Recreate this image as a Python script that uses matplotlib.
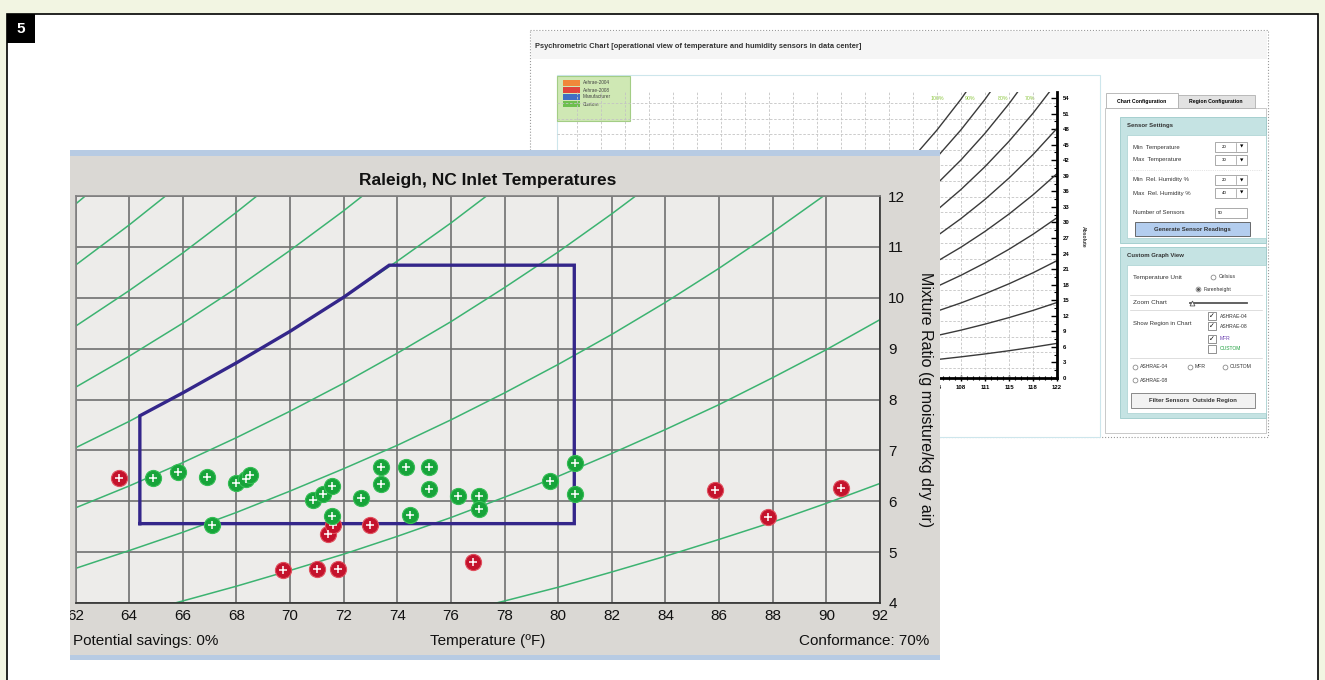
import matplotlib
matplotlib.use("Agg")
import matplotlib.pyplot as plt
from matplotlib.patches import Rectangle
from matplotlib.ticker import MultipleLocator
import numpy as np

nan = np.nan
W_PX, H_PX = 1325, 680

# ---------------- foreground chart: Raleigh, NC ----------------
temps_f = [62, 64, 66, 68, 70, 72, 74, 76, 78, 80, 82, 84, 86, 88, 90, 92]
ratio_ticks = [4, 5, 6, 7, 8, 9, 10, 11, 12]

# relative humidity lines (g/kg at each temperature of temps_f)
rh100 = [11.84, 12.72] + [nan] * 14
rh90 = [10.64, 11.43, 12.27] + [nan] * 13
rh80 = [9.44, 10.14, 10.88, 11.68, 12.52] + [nan] * 11
rh70 = [8.24, 8.85, 9.50, 10.19, 10.93, 11.71, 12.54] + [nan] * 9
rh60 = [7.05, 7.57, 8.13, 8.72, 9.34, 10.01, 10.72, 11.47, 12.27] + [nan] * 7
rh50 = [5.87, 6.30, 6.76, 7.25, 7.77, 8.32, 8.91, 9.53, 10.20, 10.90, 11.65, 12.44] + [nan] * 4
rh40 = [4.68, 5.03, 5.39, 5.78, 6.20, 6.64, 7.10, 7.60, 8.13, 8.69, 9.28, 9.91, 10.58, 11.29, 12.04, nan]
rh30 = [3.51, 3.76, 4.04, 4.33, 4.64, 4.96, 5.31, 5.68, 6.08, 6.49, 6.94, 7.41, 7.90, 8.43, 8.98, 9.57]
rh20 = [nan] * 6 + [3.53, 3.78, 4.04, 4.31, 4.61, 4.92, 5.25, 5.59, 5.96, 6.35]
rh_lines = [rh100, rh90, rh80, rh70, rh60, rh50, rh40, rh30, rh20]

# manufacturer region outline
region_t = [64.4, 64.4, 66, 68, 70, 72, 73.7, 80.6, 80.6, 64.4]
region_w = [5.56, 7.68, 8.13, 8.72, 9.34, 10.01, 10.64, 10.64, 5.56, 5.56]

# sensors inside (green) and outside (red)
green_t = [64.90, 65.84, 66.90, 67.08, 67.98, 68.35, 68.51, 70.87, 71.22, 71.58, 71.58, 72.65,
           73.39, 73.39, 74.32, 74.46, 75.18, 75.17, 76.25, 77.03, 77.03, 79.68, 80.61, 80.61]
green_w = [6.46, 6.58, 6.48, 5.54, 6.35, 6.44, 6.52, 6.03, 6.14, 6.29, 5.71, 6.06,
           6.68, 6.33, 6.68, 5.73, 6.68, 6.25, 6.11, 6.11, 5.85, 6.40, 6.76, 6.14]
red_t = [63.64, 69.75, 71.00, 71.78, 71.40, 71.60, 73.00, 76.82, 85.86, 87.81, 90.53]
red_w = [6.46, 4.64, 4.67, 4.66, 5.35, 5.54, 5.54, 4.81, 6.22, 5.70, 6.27]

# ---------------- background chart: psychrometric screenshot ----------------
bg_temps_c = [38, 40, 42, 44, 46, 48, 50]
bg10 = [3.09, 3.56, 4.08, 4.64, 5.26, 5.94, 6.68]
bg20 = [7.24, 8.19, 9.23, 10.39, 11.65, 13.03, 14.56]
bg30 = [11.44, 12.89, 14.48, 16.24, 18.17, 20.29, 22.63]
bg40 = [15.69, 17.65, 19.81, 22.20, 24.83, 27.72, 30.91]
bg50 = [20.01, 22.49, 25.23, 28.27, 31.62, 35.32, 39.41]
bg60 = [24.38, 27.40, 30.75, 34.45, 38.56, 43.09, 48.13]
bg70 = [28.81, 32.39, 36.36, 40.76, 45.65, 51.06, 57.08]
bg80 = [33.31, 37.46, 42.06, 47.19, 52.89, 59.21, nan]
bg90 = [37.87, 42.60, 47.87, 53.74, 60.29, nan, nan]
bg100 = [42.49, 47.83, 53.78, 60.43, nan, nan, nan]
bg_lines = [bg10, bg20, bg30, bg40, bg50, bg60, bg70, bg80, bg90, bg100]
bg_xticks = [40, 42, 44, 46, 48, 50]
bg_xlabels = ['104', '108', '111', '115', '118', '122']
bg_yticks = list(range(0, 55, 3))
legend_names = ['Ashrae-2004', 'Ashrae-2008', 'Manufacturer', 'Custom']
legend_colors = ['#f0883a', '#e0443c', '#3f6fc4', '#6dbf4e']

plt.rcParams['font.family'] = ['Liberation Sans', 'DejaVu Sans']

fig = plt.figure(figsize=(13.25, 6.8), dpi=100)
fig.patch.set_facecolor('#f2f5e2')


def px_axes(z):
    ax = fig.add_axes([0, 0, 1, 1], zorder=z)
    ax.set_xlim(0, W_PX)
    ax.set_ylim(H_PX, 0)
    ax.axis('off')
    return ax


def rect(ax, x0, y0, x1, y1, fc='none', ec='none', lw=0, ls='-'):
    ax.add_patch(Rectangle((x0, y0), x1 - x0, y1 - y0, facecolor=fc,
                           edgecolor=ec, lw=lw, ls=ls))


# ---- page, number box, background window ----
ax0 = px_axes(0)
rect(ax0, 7, 14, 1318, 700, fc='white', ec='black', lw=1.2)
rect(ax0, 7, 14, 35, 43, fc='black')
ax0.text(21, 29, '5', color='white', fontsize=11, fontweight='bold', ha='center', va='center')

rect(ax0, 530, 30, 1268, 437, fc='white', ec='#9a9a9a', lw=0.8, ls=':')
rect(ax0, 531, 31, 1267, 59, fc='#f5f5f5')
ax0.text(535, 46, 'Psychrometric Chart [operational view of temperature and humidity sensors in data center]',
         fontsize=5.4, fontweight='bold', color='#333333', va='center')
rect(ax0, 557, 75, 1100, 437, fc='white', ec='#cde6ec', lw=0.8)
rect(ax0, 557, 76, 630, 121, fc='#cfe8b4', ec='#a3cd85', lw=0.8)
for i, (nm, col) in enumerate(zip(legend_names, legend_colors)):
    y = 80 + i * 7
    rect(ax0, 563, y, 580, y + 6, fc=col)
    ax0.text(583, y + 3, nm, fontsize=3.4, color='#444444', va='center')

# percentage labels of the background chart
for lab, x in zip(['100%', '90%', '80%', '70%'], [937, 970, 1003, 1030]):
    ax0.text(x, 99, lab, fontsize=3.8, color='#8cc63f', ha='center', va='center')
ax0.text(1083, 237, 'Absolute', fontsize=3.6, fontweight='bold', rotation=270,
         ha='center', va='center', color='#333333')

# ---- configuration panel ----
rect(ax0, 1105, 108, 1266, 433, fc='white', ec='#c0c0c0', lw=0.6)
rect(ax0, 1106, 93, 1178, 108, fc='white', ec='#b0b0b0', lw=0.6)
rect(ax0, 1178, 95, 1255, 108, fc='#e2e2e2', ec='#b0b0b0', lw=0.6)
ax0.text(1142, 101, 'Chart Configuration', fontsize=3.7, fontweight='bold', ha='center', va='center')
ax0.text(1216, 101, 'Region Configuration', fontsize=3.7, fontweight='bold', ha='center', va='center')

rect(ax0, 1120, 117, 1266, 243, fc='#c5e3e3', ec='#9ccaca', lw=0.6)
ax0.text(1127, 125, 'Sensor Settings', fontsize=4.3, fontweight='bold', va='center', color='#333333')
rect(ax0, 1127, 135, 1266, 238, fc='white', ec='#a8d0d0', lw=0.5)
for lab, y, val in [('Min  Temperature', 147, '20'), ('Max  Temperature', 160, '30'),
                    ('Min  Rel. Humidity %', 180, '20'), ('Max  Rel. Humidity %', 193, '40')]:
    ax0.text(1133, y, lab, fontsize=4.3, va='center', color='#333333')
    rect(ax0, 1215, y - 5, 1247, y + 5, fc='white', ec='#888888', lw=0.5)
    ax0.plot([1236, 1236], [y - 4, y + 4], color='#999999', lw=0.5)
    ax0.text(1222, y, val, fontsize=3.2, va='center')
    ax0.text(1241.5, y, '\u25bc', fontsize=3.2, va='center', ha='center', family='DejaVu Sans')
ax0.plot([1130, 1262], [170, 170], color='#cccccc', lw=0.5, ls=':')
ax0.text(1133, 213, 'Number of Sensors', fontsize=4.3, va='center', color='#333333')
rect(ax0, 1215, 208, 1247, 218, fc='white', ec='#888888', lw=0.5)
ax0.text(1218, 213, '50', fontsize=3.2, va='center')
rect(ax0, 1135, 222, 1250, 236, fc='#b3cdee', ec='#555555', lw=0.6)
ax0.text(1192, 229, 'Generate Sensor Readings', fontsize=4.3, fontweight='bold', ha='center',
         va='center', color='#333333')

rect(ax0, 1120, 247, 1266, 418, fc='#c5e3e3', ec='#9ccaca', lw=0.6)
ax0.text(1127, 256, 'Custom Graph View', fontsize=4.3, fontweight='bold', va='center', color='#333333')
rect(ax0, 1127, 265, 1266, 413, fc='white', ec='#a8d0d0', lw=0.5)
ax0.text(1133, 277, 'Temperature Unit', fontsize=4.6, va='center', color='#333333')
ax0.plot([1213], [277], 'o', ms=3.5, mfc='white', mec='#777777', mew=0.5)
ax0.text(1219, 277, 'Celsius', fontsize=3.7, va='center', color='#333333')
ax0.plot([1198], [289], 'o', ms=3.5, mfc='white', mec='#777777', mew=0.5)
ax0.plot([1198], [289], 'o', ms=1.2, color='#555555')
ax0.text(1204, 289, 'Farenheight', fontsize=3.7, va='center', color='#333333')
ax0.plot([1130, 1262], [295, 295], color='#d0d0d0', lw=0.5)
ax0.text(1133, 303, 'Zoom Chart', fontsize=4.6, va='center', color='#333333')
ax0.plot([1190, 1247], [303, 303], color='#555555', lw=1.3)
ax0.plot([1192], [303], '^', ms=3.5, mfc='white', mec='#555555', mew=0.6)
ax0.plot([1130, 1262], [310, 310], color='#d0d0d0', lw=0.5)
ax0.text(1133, 323, 'Show Region in Chart', fontsize=4.3, va='center', color='#333333')
for lab, y, chk, col in [('ASHRAE-04', 316, True, '#333333'), ('ASHRAE-08', 326, True, '#333333'),
                         ('MFR', 339, True, '#6a3fb0'), ('CUSTOM', 349, False, '#20a040')]:
    rect(ax0, 1208, y - 4, 1216, y + 4, fc='white', ec='#666666', lw=0.5)
    if chk:
        ax0.text(1212, y, '\u2713', fontsize=5, ha='center', va='center', family='DejaVu Sans')
    ax0.text(1220, y, lab, fontsize=3.6, va='center', color=col)
ax0.plot([1130, 1262], [358, 358], color='#d0d0d0', lw=0.5)
for lab, x, y in [('ASHRAE-04', 1135, 367), ('MFR', 1190, 367), ('CUSTOM', 1225, 367), ('ASHRAE-08', 1135, 380)]:
    ax0.plot([x], [y], 'o', ms=3.5, mfc='white', mec='#777777', mew=0.5)
    ax0.text(x + 5, y, lab, fontsize=3.7, va='center', color='#333333')
rect(ax0, 1131, 393, 1255, 408, fc='#f2f2f2', ec='#777777', lw=0.6)
ax0.text(1193, 400.5, 'Filter Sensors  Outside Region', fontsize=4.3, fontweight='bold', ha='center',
         va='center', color='#333333')

# ---- background psychrometric plot ----
axb = fig.add_axes([557 / W_PX, 1 - 378 / H_PX, 500 / W_PX, 286 / H_PX], zorder=1)
axb.patch.set_alpha(0)
axb.set_xlim(50 - 500 / 12, 50)
axb.set_ylim(0, 286 / 5.185)
for t in range(10, 50, 2):
    axb.axvline(t, color='#c4c4c4', lw=0.6, ls=(0, (3, 2)))
for w in range(2, 55, 3):
    axb.axhline(w, color='#c4c4c4', lw=0.6, ls=(0, (3, 2)))
for line in bg_lines:
    axb.plot(bg_temps_c, line, color='#3a3a3a', lw=1.0)
for s in ['left', 'top']:
    axb.spines[s].set_visible(False)
for s in ['right', 'bottom']:
    axb.spines[s].set_linewidth(2)
axb.yaxis.tick_right()
axb.set_yticks(bg_yticks)
axb.set_yticklabels([str(v) for v in bg_yticks], fontsize=4.3, fontweight='bold')
axb.yaxis.set_minor_locator(MultipleLocator(1.5))
axb.tick_params(axis='y', which='major', direction='in', length=4, width=1, pad=4)
axb.tick_params(axis='y', which='minor', direction='in', length=2.5, width=0.8)
axb.set_xticks(bg_xticks)
axb.set_xticklabels(bg_xlabels, fontsize=4.3, fontweight='bold')
axb.xaxis.set_minor_locator(MultipleLocator(0.5))
axb.tick_params(axis='x', which='major', direction='inout', length=4, width=1, pad=3)
axb.tick_params(axis='x', which='minor', direction='inout', length=3, width=0.8)

# ---- foreground window ----
ax1 = px_axes(2)
rect(ax1, 70, 150, 940, 660, fc='#dad8d4')
rect(ax1, 70, 150, 940, 156, fc='#b7cbe3')
rect(ax1, 70, 655, 940, 660, fc='#b7cbe3')
ax1.text(488, 181, 'Raleigh, NC Inlet Temperatures', fontsize=12.5, fontweight='bold',
         ha='center', va='center', color='#111111')
ax1.text(73, 641, 'Potential savings: 0%', fontsize=11, va='center', color='#111111')
ax1.text(488, 641, 'Temperature (\u00baF)', fontsize=11, ha='center', va='center', color='#111111')
ax1.text(929, 641, 'Conformance: 70%', fontsize=11, ha='right', va='center', color='#111111')
ax1.text(926, 400, 'Mixture Ratio (g moisture/kg dry air)', fontsize=11.5, rotation=270,
         ha='center', va='center', color='#111111')

axf = fig.add_axes([75.5 / W_PX, 1 - 603 / H_PX, (880 - 75.5) / W_PX, (603 - 196) / H_PX], zorder=3)
axf.set_facecolor('#edecea')
axf.set_xlim(62, 92)
axf.set_ylim(4, 12)
axf.set_xticks(temps_f)
axf.set_yticks(ratio_ticks)
axf.grid(True, color='#707070', lw=1.2)
axf.set_axisbelow(True)
for s in axf.spines.values():
    s.set_color('#808080')
    s.set_linewidth(1.2)
axf.spines['bottom'].set_color('#303030')
axf.spines['right'].set_color('#303030')
axf.yaxis.tick_right()
axf.tick_params(axis='both', length=0, labelsize=11, labelcolor='#111111')
axf.tick_params(axis='x', pad=4.5)
axf.tick_params(axis='y', pad=6)

for line in rh_lines:
    axf.plot(temps_f, line, color='#3cb371', lw=1.1, zorder=2)
axf.plot(region_t, region_w, color='#34268a', lw=2.4, zorder=3, solid_joinstyle='miter')

axf.scatter(red_t, red_w, s=135, color='#c4122c', edgecolor='#e0505e', linewidth=0.8, zorder=4)
axf.scatter(red_t, red_w, s=30, marker='+', color='white', linewidth=1.1, zorder=5)
axf.scatter(green_t, green_w, s=135, color='#17a43a', edgecolor='#35bd55', linewidth=0.8, zorder=6)
axf.scatter(green_t, green_w, s=30, marker='+', color='white', linewidth=1.1, zorder=7)

# hide the part of the first tick label outside the window
axc = px_axes(10)
rect(axc, 50, 606, 70, 630, fc='white')

fig.savefig('out.png', dpi=100, facecolor=fig.get_facecolor())
